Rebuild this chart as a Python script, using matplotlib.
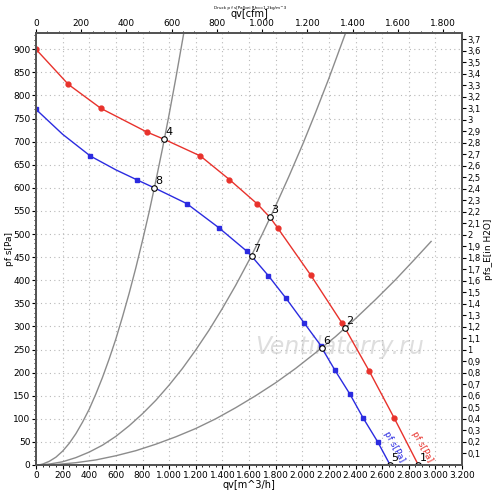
import matplotlib.pyplot as plt
import matplotlib.ticker as ticker
import numpy as np

# fan curves, qv [m^3/h] / pf s [Pa]
red_q = [0, 243, 488, 832, 964, 1235, 1453, 1663, 1758, 1816, 2064, 2297, 2322, 2502, 2692, 2872]
red_p = [900, 824, 772, 721, 705, 669, 618, 565, 536, 513, 411, 308, 296, 204, 101, 0]
red_marks = [0, 1, 2, 3, 5, 6, 7, 9, 10, 11, 13, 14]

blue_q = [0, 200, 408, 600, 761, 889, 1132, 1372, 1583, 1620, 1745, 1878, 2013, 2141, 2146, 2246, 2359, 2459, 2567, 2660]
blue_p = [770, 716, 669, 639, 617, 600, 566, 514, 463, 452, 410, 361, 308, 258, 254, 205, 153, 101, 50, 0]
blue_marks = [0, 2, 4, 6, 7, 8, 10, 11, 12, 13, 15, 16, 17, 18]

# system curves
sysA_q = [20, 50, 100, 150, 200, 250, 300, 350, 400, 450, 500, 550, 600, 650, 700,
          750, 800, 850, 900, 950, 1000, 1050, 1110]
sysA_p = [0, 2, 8, 17, 30, 47, 68, 93, 121, 154, 190, 230, 273, 321, 372,
          427, 486, 548, 615, 685, 759, 837, 935]
sysB_q = [20, 100, 200, 300, 400, 500, 600, 700, 800, 900, 1000, 1100, 1200, 1300,
          1400, 1500, 1600, 1700, 1800, 1900, 2000, 2100, 2200, 2325]
sysB_p = [0, 2, 7, 16, 28, 43, 62, 85, 111, 140, 173, 209, 249, 292,
          339, 389, 443, 500, 561, 625, 692, 763, 837, 935]
sysC_q = [20, 150, 300, 450, 600, 750, 900, 1050, 1200, 1350, 1500, 1650, 1800,
          1950, 2100, 2250, 2400, 2550, 2700, 2850, 2968]
sysC_p = [0, 1, 5, 11, 20, 31, 45, 61, 79, 100, 124, 150, 178,
          209, 243, 278, 317, 358, 401, 447, 484]

# operating points
op_labels = ['1', '2', '3', '4', '5', '6', '7', '8']
op_q = [2872, 2322, 1758, 964, 2660, 2146, 1620, 889]
op_p = [0, 296, 536, 705, 0, 254, 452, 600]

RED = '#e8322c'
BLUE = '#2b2be0'

fig = plt.figure(figsize=(5, 4.93), dpi=100)
ax = fig.add_axes([0.072, 0.0568, 0.852, 0.876])

ax.set_xlim(0, 3200)
ax.set_ylim(0, 935)

for q, p in [(sysA_q, sysA_p), (sysB_q, sysB_p), (sysC_q, sysC_p)]:
    ax.plot(q, p, color='#8c8c8c', lw=1)

ax.plot(red_q, red_p, color=RED, lw=1, marker='o', ms=3.5, markevery=red_marks)
ax.plot(blue_q, blue_p, color=BLUE, lw=1, marker='s', ms=3.5, markevery=blue_marks)

ax.plot(op_q, op_p, 'o', ms=4, mfc='white', mec='black', mew=0.8, zorder=5)
for lab, q, p in zip(op_labels, op_q, op_p):
    ax.annotate(lab, (q, p), xytext=(1, 3), textcoords='offset points',
                fontsize=8, color='black', zorder=6)

ax.text(2600, 3, 'pf s[Pa]', color=BLUE, fontsize=6.5, rotation=-61, ha='left', va='bottom')
ax.text(2810, 3, 'pf s[Pa]', color=RED, fontsize=6.5, rotation=-61, ha='left', va='bottom')

ax.text(2280, 255, 'Ventilatorry.ru', color='#dedede', fontsize=17, style='italic',
        ha='center', va='center', zorder=0)

ax.grid(True, color='#b8b8b8', linestyle=(0, (1, 3)), lw=0.8)
ax.set_axisbelow(True)
ax.xaxis.set_major_locator(ticker.MultipleLocator(200))
ax.xaxis.set_minor_locator(ticker.MultipleLocator(50))
ax.yaxis.set_major_locator(ticker.MultipleLocator(50))
ax.yaxis.set_minor_locator(ticker.MultipleLocator(10))
ax.xaxis.set_major_formatter(ticker.FuncFormatter(lambda v, pos: f"{int(v):,}".replace(',', '.')))
ax.tick_params(labelsize=6.5, length=3, pad=1)
ax.tick_params(which='minor', length=1.5)
ax.set_xlabel('qv[m^3/h]', fontsize=7, labelpad=0)
ax.set_ylabel('pf s[Pa]', fontsize=6.5)
ax.yaxis.set_label_coords(-0.052, 0.5)

for s in ax.spines.values():
    s.set_color('#555555')
    s.set_linewidth(1.3)

# top axis in cfm
axt = ax.twiny()
axt.set_xlim(0, 3200 / 1.699)
axt.xaxis.set_major_locator(ticker.MultipleLocator(200))
axt.xaxis.set_minor_locator(ticker.MultipleLocator(50))
axt.xaxis.set_major_formatter(ticker.FuncFormatter(lambda v, pos: f"{int(v):,}".replace(',', '.')))
axt.tick_params(labelsize=6.5, length=3, pad=1)
axt.tick_params(which='minor', length=1.5)
axt.set_xlabel('qv[cfm]', fontsize=7, labelpad=1)

# right axis in in H2O
axr = ax.twinx()
axr.set_ylim(0, 935 / 249.089)
axr.set_yticks(np.arange(1, 38) / 10)
def fmt_in(v, pos):
    s = f"{v:.1f}".replace('.', ',')
    return s[:-2] if s.endswith(',0') else s
axr.yaxis.set_major_formatter(ticker.FuncFormatter(fmt_in))
axr.tick_params(labelsize=6, length=3, pad=1)
axr.set_ylabel('pfs_E[in H2O]', fontsize=6.5, labelpad=2)
for a in (axt, axr):
    for s in a.spines.values():
        s.set_color('#555555')
        s.set_linewidth(1.3)

fig.text(0.5, 0.988, 'Druck p f s[Pa]bei Rho=1,2kg/m^3', fontsize=3, ha='center', va='top')

fig.savefig('out.png', dpi=100)
